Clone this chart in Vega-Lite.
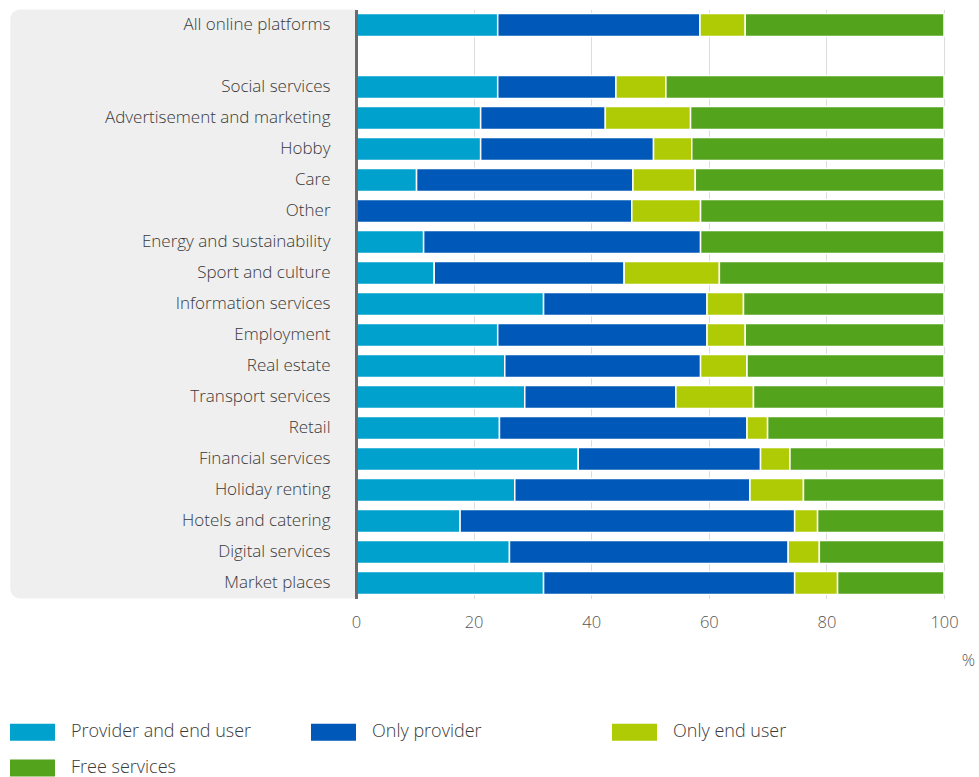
{
  "$schema": "https://vega.github.io/schema/vega-lite/v6.json",
  "width": 588,
  "height": 589,
  "autosize": {"type": "none"},
  "padding": {"left": 356, "top": 9.5, "right": 35, "bottom": 178.5},
  "background": "#ffffff",
  "config": {
    "view": {"stroke": null},
    "font": "Open Sans"
  },
  "datasets": {
    "shares": [
      {"category": "All online platforms", "type": "Provider and end user", "value": 24.1},
      {"category": "All online platforms", "type": "Only provider", "value": 34.4},
      {"category": "All online platforms", "type": "Only end user", "value": 7.7},
      {"category": "All online platforms", "type": "Free services", "value": 33.8},
      {"category": "Social services", "type": "Provider and end user", "value": 24.1},
      {"category": "Social services", "type": "Only provider", "value": 20.1},
      {"category": "Social services", "type": "Only end user", "value": 8.5},
      {"category": "Social services", "type": "Free services", "value": 47.3},
      {"category": "Advertisement and marketing", "type": "Provider and end user", "value": 21.2},
      {"category": "Advertisement and marketing", "type": "Only provider", "value": 21.2},
      {"category": "Advertisement and marketing", "type": "Only end user", "value": 14.5},
      {"category": "Advertisement and marketing", "type": "Free services", "value": 43.1},
      {"category": "Hobby", "type": "Provider and end user", "value": 21.2},
      {"category": "Hobby", "type": "Only provider", "value": 29.4},
      {"category": "Hobby", "type": "Only end user", "value": 6.5},
      {"category": "Hobby", "type": "Free services", "value": 42.9},
      {"category": "Care", "type": "Provider and end user", "value": 10.3},
      {"category": "Care", "type": "Only provider", "value": 36.8},
      {"category": "Care", "type": "Only end user", "value": 10.6},
      {"category": "Care", "type": "Free services", "value": 42.3},
      {"category": "Other", "type": "Only provider", "value": 46.9},
      {"category": "Other", "type": "Only end user", "value": 11.7},
      {"category": "Other", "type": "Free services", "value": 41.4},
      {"category": "Energy and sustainability", "type": "Provider and end user", "value": 11.5},
      {"category": "Energy and sustainability", "type": "Only provider", "value": 47.1},
      {"category": "Energy and sustainability", "type": "Free services", "value": 41.4},
      {"category": "Sport and culture", "type": "Provider and end user", "value": 13.3},
      {"category": "Sport and culture", "type": "Only provider", "value": 32.3},
      {"category": "Sport and culture", "type": "Only end user", "value": 16.2},
      {"category": "Sport and culture", "type": "Free services", "value": 38.2},
      {"category": "Information services", "type": "Provider and end user", "value": 31.9},
      {"category": "Information services", "type": "Only provider", "value": 27.8},
      {"category": "Information services", "type": "Only end user", "value": 6.2},
      {"category": "Information services", "type": "Free services", "value": 34.1},
      {"category": "Employment", "type": "Provider and end user", "value": 24.1},
      {"category": "Employment", "type": "Only provider", "value": 35.6},
      {"category": "Employment", "type": "Only end user", "value": 6.5},
      {"category": "Employment", "type": "Free services", "value": 33.8},
      {"category": "Real estate", "type": "Provider and end user", "value": 25.3},
      {"category": "Real estate", "type": "Only provider", "value": 33.3},
      {"category": "Real estate", "type": "Only end user", "value": 7.9},
      {"category": "Real estate", "type": "Free services", "value": 33.5},
      {"category": "Transport services", "type": "Provider and end user", "value": 28.7},
      {"category": "Transport services", "type": "Only provider", "value": 25.7},
      {"category": "Transport services", "type": "Only end user", "value": 13.2},
      {"category": "Transport services", "type": "Free services", "value": 32.4},
      {"category": "Retail", "type": "Provider and end user", "value": 24.4},
      {"category": "Retail", "type": "Only provider", "value": 42.1},
      {"category": "Retail", "type": "Only end user", "value": 3.5},
      {"category": "Retail", "type": "Free services", "value": 30.0},
      {"category": "Financial services", "type": "Provider and end user", "value": 37.8},
      {"category": "Financial services", "type": "Only provider", "value": 31.0},
      {"category": "Financial services", "type": "Only end user", "value": 5.0},
      {"category": "Financial services", "type": "Free services", "value": 26.2},
      {"category": "Holiday renting", "type": "Provider and end user", "value": 27.0},
      {"category": "Holiday renting", "type": "Only provider", "value": 40.0},
      {"category": "Holiday renting", "type": "Only end user", "value": 9.1},
      {"category": "Holiday renting", "type": "Free services", "value": 23.9},
      {"category": "Hotels and catering", "type": "Provider and end user", "value": 17.7},
      {"category": "Hotels and catering", "type": "Only provider", "value": 56.9},
      {"category": "Hotels and catering", "type": "Only end user", "value": 3.9},
      {"category": "Hotels and catering", "type": "Free services", "value": 21.5},
      {"category": "Digital services", "type": "Provider and end user", "value": 26.1},
      {"category": "Digital services", "type": "Only provider", "value": 47.4},
      {"category": "Digital services", "type": "Only end user", "value": 5.3},
      {"category": "Digital services", "type": "Free services", "value": 21.2},
      {"category": "Market places", "type": "Provider and end user", "value": 31.9},
      {"category": "Market places", "type": "Only provider", "value": 42.7},
      {"category": "Market places", "type": "Only end user", "value": 7.3},
      {"category": "Market places", "type": "Free services", "value": 18.1}
    ]
  },
  "layer": [
    {
      "description": "Light grey panel behind the category labels",
      "data": {"values": [{"from": -58.8, "to": 0}]},
      "mark": {"type": "rect", "color": "#efefef", "cornerRadiusTopLeft": 10, "cornerRadiusBottomLeft": 10},
      "encoding": {
        "x": {"field": "from", "type": "quantitative"},
        "x2": {"field": "to"}
      }
    },
    {
      "data": {"name": "shares"},
      "transform": [
        {"calculate": "indexof(['Provider and end user','Only provider','Only end user','Free services'], datum.type)", "as": "stackOrder"}
      ],
      "mark": {"type": "bar", "stroke": "#ffffff", "strokeWidth": 1.5},
      "encoding": {
        "y": {
          "field": "category",
          "type": "nominal",
          "scale": {
            "domain": [
              "All online platforms", " ", "Social services", "Advertisement and marketing", "Hobby", "Care", "Other",
              "Energy and sustainability", "Sport and culture", "Information services", "Employment", "Real estate",
              "Transport services", "Retail", "Financial services", "Holiday renting", "Hotels and catering",
              "Digital services", "Market places"
            ],
            "paddingInner": 0.26,
            "paddingOuter": 0.13
          },
          "axis": {
            "title": null,
            "ticks": false,
            "labelPadding": 26,
            "labelFontSize": 17,
            "labelColor": "#3a3a3a",
            "labelFontWeight": 300,
            "labelLimit": 400,
            "domainColor": "#6b6b6b",
            "domainWidth": 3,
            "zindex": 1
          }
        },
        "x": {
          "field": "value",
          "type": "quantitative",
          "stack": "zero",
          "scale": {"domain": [0, 100], "nice": false},
          "axis": {
            "title": "%",
            "titleFontSize": 16.5,
            "titleFontWeight": 300,
            "titleColor": "#555555",
            "titleX": 612,
            "titleY": 62,
            "titleAlign": "center",
            "titleBaseline": "middle",
            "values": [0, 20, 40, 60, 80, 100],
            "domain": false,
            "ticks": false,
            "labelFlush": false,
            "labelPadding": 16,
            "labelFontSize": 16.5,
            "labelFontWeight": 300,
            "labelColor": "#555555",
            "grid": true,
            "gridColor": "#dcdcdc",
            "gridWidth": 1
          }
        },
        "color": {
          "field": "type",
          "type": "nominal",
          "scale": {
            "domain": ["Provider and end user", "Only provider", "Only end user", "Free services"],
            "range": ["#00a1cd", "#0058b8", "#afcb05", "#53a31d"]
          },
          "legend": {
            "title": null,
            "orient": "none",
            "legendX": -346,
            "legendY": 700,
            "direction": "horizontal",
            "columns": 3,
            "gridAlign": "all",
            "columnPadding": 59,
            "rowPadding": 4,
            "padding": 0,
            "symbolType": "M-1,-0.38H1V0.38H-1Z",
            "symbolSize": 2025,
            "symbolStrokeWidth": 0,
            "symbolOpacity": 1,
            "labelOffset": 16,
            "labelFontSize": 18,
            "labelFontWeight": 300,
            "labelColor": "#3a3a3a",
            "labelLimit": 300
          }
        },
        "order": {"field": "stackOrder", "type": "quantitative"}
      }
    }
  ]
}
